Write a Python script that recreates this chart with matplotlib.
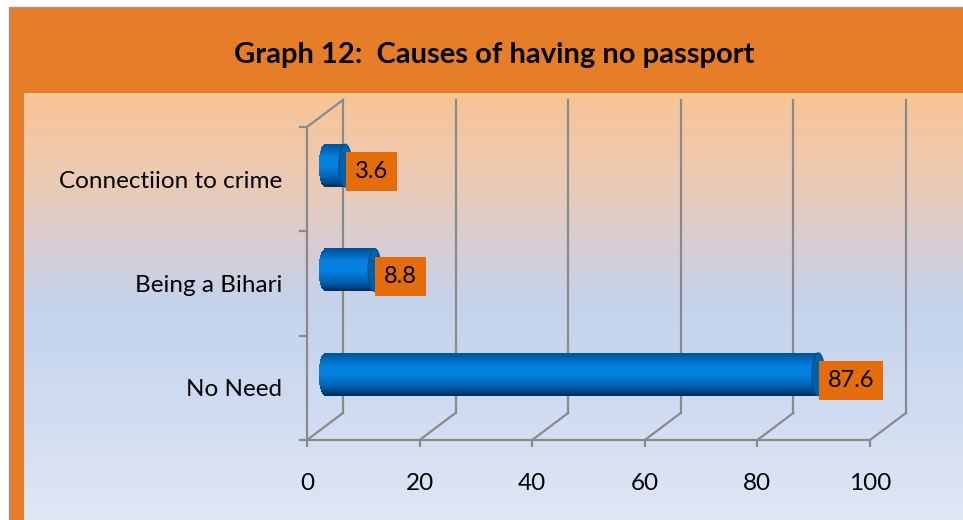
import numpy as np
import matplotlib
matplotlib.use("Agg")
import matplotlib.pyplot as plt
from matplotlib.patches import Ellipse, Rectangle

plt.rcParams["font.family"] = ["Lato", "DejaVu Sans"]

TITLE = "Graph 12:  Causes of having no passport"
CATEGORIES = ["No Need", "Being a Bihari", "Connectiion to crime"]
VALUES = [87.6, 8.8, 3.6]
LABELS = ["87.6", "8.8", "3.6"]
X_TICKS = [0, 20, 40, 60, 80, 100]

W, H = 963, 520
ORANGE = "#E67E29"
LABEL_BOX = "#E46C0A"
GRID = "#8A8A8A"

# 3d look: depth offset of the back wall in data units
DEPTH_X = 6.4
DEPTH_Y = 0.26
CAP_RX = 1.15
BAR_HALF = 0.205


def blue_at(t):
    # t = 0 at top edge of the cylinder, 1 at bottom edge
    stops = [0.0, 0.3, 0.5, 0.8, 1.0]
    cols = np.array([
        [0, 80, 150],
        [4, 128, 222],
        [6, 132, 226],
        [0, 92, 172],
        [0, 46, 96],
    ]) / 255.0
    return [np.interp(t, stops, cols[:, k]) for k in range(3)]


def draw_background(fig):
    bg = fig.add_axes([0, 0, 1, 1], zorder=-5)
    bg.add_patch(Rectangle((0, 0), W, H, color="white", zorder=0))
    bg.add_patch(Rectangle((9, 7), W, H, facecolor=ORANGE, edgecolor="#9A9A9A", lw=1,
                           zorder=1))

    ys = np.linspace(0, 1, 200)
    stops = [0.0, 0.2, 0.38, 0.5, 0.75, 1.0]
    cols = np.array([
        [249, 196, 150],
        [236, 202, 180],
        [212, 206, 216],
        [196, 211, 236],
        [208, 220, 241],
        [224, 231, 245],
    ]) / 255.0
    grad = np.stack([np.interp(ys, stops, cols[:, k]) for k in range(3)], axis=1)
    grad = grad[:, None, :]
    bg.imshow(grad, extent=[24, W, H, 93], aspect="auto", interpolation="bilinear",
              zorder=2)

    bg.set_xlim(0, W)
    bg.set_ylim(H, 0)
    bg.axis("off")

    bg.text(494, 55, TITLE, ha="center", va="center", fontsize=21, fontweight="bold",
            color="black", zorder=3)


def draw_frame(ax):
    ys = [0, 3]
    for v in X_TICKS:
        # back wall line
        ax.plot([v + DEPTH_X] * 2, [ys[0] + DEPTH_Y, ys[1] + DEPTH_Y], color=GRID,
                lw=1.6, clip_on=False, zorder=1)
        # floor diagonal
        ax.plot([v, v + DEPTH_X], [0, DEPTH_Y], color=GRID, lw=1.6, clip_on=False, zorder=1)
    # left wall top edge
    ax.plot([0, DEPTH_X], [3, 3 + DEPTH_Y], color=GRID, lw=1.6, clip_on=False, zorder=1)


def draw_bars(ax):
    n = 40
    edges = np.linspace(1, -1, n + 1)
    for i, (cat, val) in enumerate(zip(CATEGORIES, VALUES)):
        yc = i + 0.5 + DEPTH_Y / 2
        xc = DEPTH_X / 2
        for k in range(n):
            t_mid = (edges[k] + edges[k + 1]) / 2
            off = CAP_RX * np.sqrt(max(0.0, 1 - t_mid ** 2))
            y0 = yc + edges[k + 1] * BAR_HALF
            ax.barh(y0, val + off, left=xc - off, height=2 * BAR_HALF / n * 1.05,
                    align="edge", color=blue_at((1 - t_mid) / 2), lw=0, zorder=3,
                    clip_on=False)
        ax.add_patch(Ellipse((xc + val, yc), 2 * CAP_RX, 2 * BAR_HALF,
                             facecolor="#0061AA", edgecolor="#004C88", lw=0.8,
                             zorder=4, clip_on=False))
        ax.text(xc + val + 1.7, yc - 0.06, LABELS[i], ha="left", va="center",
                fontsize=17, zorder=5,
                bbox=dict(boxstyle="square,pad=0.38", facecolor=LABEL_BOX, edgecolor="none"))


def main():
    fig = plt.figure(figsize=(W / 100, H / 100), dpi=100)
    draw_background(fig)

    ax = fig.add_axes([307 / W, 80 / H, 563 / W, 313 / H])
    ax.patch.set_alpha(0)
    ax.set_xlim(0, 100)
    ax.set_ylim(0, 3)

    for side in ["top", "right"]:
        ax.spines[side].set_visible(False)
    for side in ["left", "bottom"]:
        ax.spines[side].set_color(GRID)
        ax.spines[side].set_linewidth(1.6)

    ax.set_xticks(X_TICKS)
    ax.set_xticklabels([str(v) for v in X_TICKS])
    ax.tick_params(axis="x", direction="out", length=5, width=1.6, color=GRID,
                   labelsize=17.5, pad=19)

    ax.set_yticks([0, 1, 2, 3])
    ax.set_yticklabels([])
    ax.set_yticks([0.5, 1.5, 2.5], minor=True)
    ax.set_yticklabels(CATEGORIES, minor=True)
    ax.tick_params(axis="y", which="major", direction="out", length=5.5, width=1.6,
                   color=GRID)
    ax.tick_params(axis="y", which="minor", length=0, labelsize=17.5, pad=18)

    draw_frame(ax)
    draw_bars(ax)

    fig.savefig("out.png", dpi=100)


if __name__ == "__main__":
    main()
